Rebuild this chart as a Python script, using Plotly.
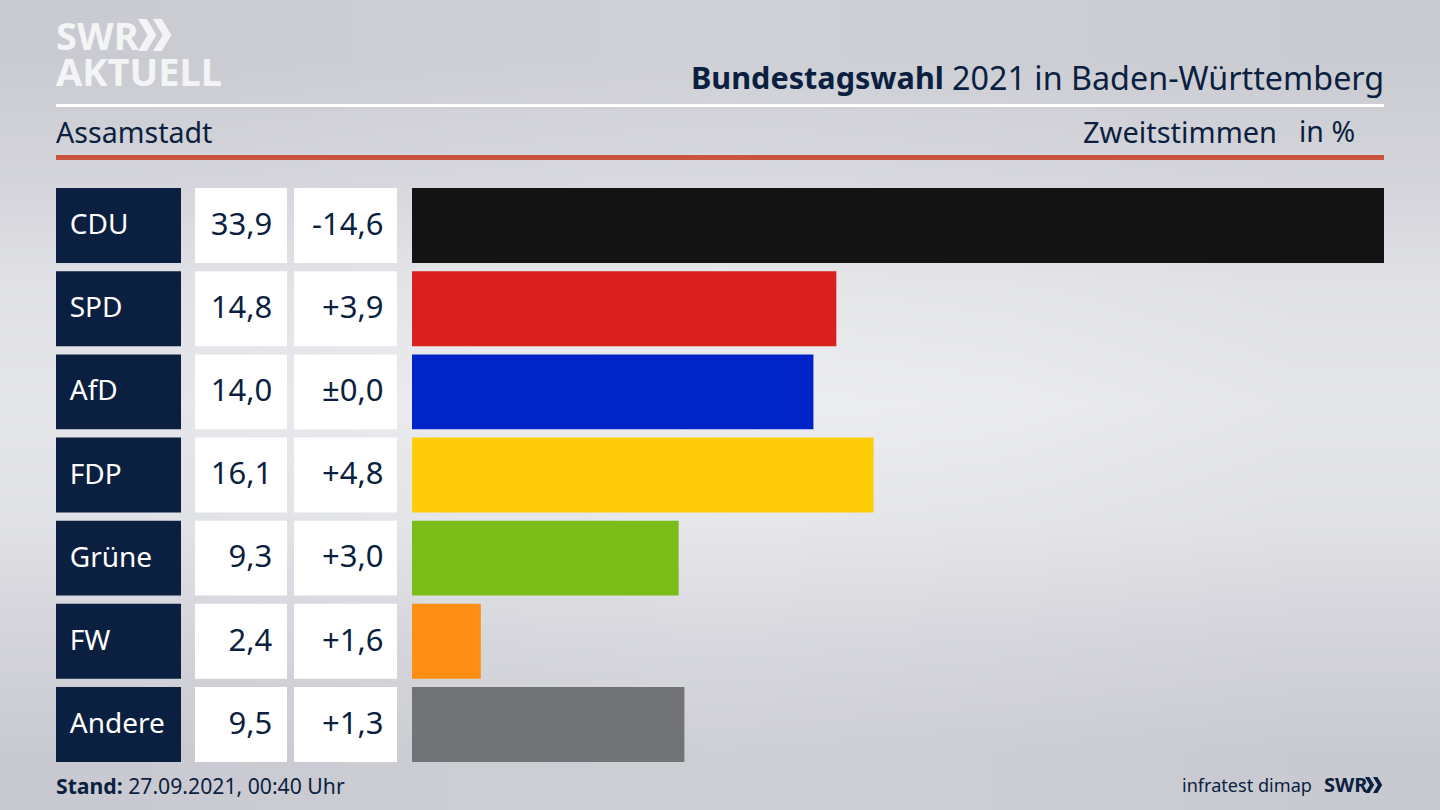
import plotly.graph_objects as go

W = 1440
H = 810
FONT = "Noto Sans"
NAVY = "#0b1f40"

parties = ["CDU", "SPD", "AfD", "FDP", "Grüne", "FW", "Andere"]
shares = [33.9, 14.8, 14.0, 16.1, 9.3, 2.4, 9.5]
share_labels = ["33,9", "14,8", "14,0", "16,1", "9,3", "2,4", "9,5"]
diff_labels = ["-14,6", "+3,9", "±0,0", "+4,8", "+3,0", "+1,6", "+1,3"]
bar_colors = ["#131313", "#d9201e", "#0023c8", "#ffcd09", "#7abd18", "#ff8e14", "#727376"]

# background brightness, rows top to bottom, columns left to right
bg_z = [
    [203, 206, 208, 206, 203],
    [213, 216, 218, 216, 213],
    [226, 230, 232, 230, 226],
    [231, 236, 238, 236, 231],
    [226, 230, 232, 230, 226],
    [213, 216, 218, 216, 213],
    [204, 207, 209, 207, 204],
]


def xd(left, right):
    return [left / W, right / W]


def yd(top, bottom):
    return [1 - bottom / H, 1 - top / H]


fig = go.Figure()

# gradient background
fig.add_trace(go.Heatmap(
    z=bg_z, zsmooth="best", showscale=False, hoverinfo="skip",
    zmin=0, zmax=255,
    colorscale=[[0, "rgb(0,0,30)"], [1, "rgb(253,254,255)"]],
    xaxis="x", yaxis="y",
))

# result bars
fig.add_trace(go.Bar(
    x=shares, y=parties, orientation="h", marker=dict(color=bar_colors, line_width=0),
    xaxis="x2", yaxis="y2",
))

# table cells, one axis per column
for axis, color in [("x3", NAVY), ("x4", "white"), ("x5", "white")]:
    fig.add_trace(go.Bar(
        x=[1] * len(parties), y=parties, orientation="h",
        marker=dict(color=color, line_width=0), xaxis=axis, yaxis="y2",
    ))

# cell text sits on y3, which is y2 moved down a little
cell_font = dict(family=FONT, size=31, color=NAVY)
fig.add_trace(go.Scatter(
    x=[0.11] * len(parties), y=parties, mode="text", text=parties, textposition="middle right",
    textfont=dict(family=FONT, size=28, color="white"), xaxis="x3", yaxis="y3",
))
fig.add_trace(go.Scatter(
    x=[0.84] * len(parties), y=parties, mode="text", text=share_labels, textposition="middle left",
    textfont=cell_font, xaxis="x4", yaxis="y3",
))
fig.add_trace(go.Scatter(
    x=[0.87] * len(parties), y=parties, mode="text", text=diff_labels, textposition="middle left",
    textfont=cell_font, xaxis="x5", yaxis="y3",
))

hidden = dict(visible=False, fixedrange=True)
rows = dict(categoryorder="array", categoryarray=parties[::-1], range=[-0.5, 6.5])
fig.update_layout(
    width=W, height=H,
    margin=dict(l=0, r=0, t=0, b=0),
    showlegend=False,
    bargap=0.0986,
    paper_bgcolor="#dcdee3",
    plot_bgcolor="rgba(0,0,0,0)",
    xaxis=dict(domain=[0, 1], **hidden),
    yaxis=dict(domain=[0, 1], **hidden),
    xaxis2=dict(domain=xd(412, 1384), range=[0, 33.9], anchor="y2", **hidden),
    xaxis3=dict(domain=xd(56, 181), range=[0, 1], anchor="y2", **hidden),
    xaxis4=dict(domain=xd(195, 287), range=[0, 1], anchor="y2", **hidden),
    xaxis5=dict(domain=xd(294, 397), range=[0, 1], anchor="y2", **hidden),
    yaxis2=dict(domain=yd(184, 766), **rows, **hidden),
    yaxis3=dict(domain=yd(185.5, 767.5), **rows, **hidden),
)


def label(x, y, text, size, color=NAVY, anchor="left", family=FONT):
    fig.add_annotation(
        x=x / W, y=1 - y / H, xref="paper", yref="paper", text=text, showarrow=False,
        xanchor=anchor, yanchor="middle", borderpad=0, borderwidth=0,
        font=dict(family=family, size=size, color=color),
    )


label(944, 77, "<b>Bundestagswahl</b>", 30.6, anchor="right")
label(1384, 77, "2021 in Baden-Württemberg", 32.3, anchor="right")
label(56, 131, "Assamstadt", 28.6)
label(1277, 131, "Zweitstimmen", 29, anchor="right")
label(1355, 131, "in %", 28.5, anchor="right")
label(56, 785, "<b>Stand:</b> 27.09.2021, 00:40 Uhr", 21.2)
label(1312, 785, "infratest dimap", 18.1, anchor="right")
label(1324, 784, "<b>SWR</b>", 20)

# logo
label(56, 35, "<b>SWR</b>", 38, color="#f3f4f6")
label(56, 71, "<b>AKTUELL</b>", 38, color="#f3f4f6")


def rule(top, bottom, color):
    fig.add_shape(
        type="rect", xref="paper", yref="paper", x0=56 / W, x1=1384 / W,
        y0=1 - bottom / H, y1=1 - top / H, fillcolor=color, line_width=0,
    )


rule(104, 107, "white")
rule(155, 160, "#c8533f")

# the two chevrons of the SWR mark, big one in the logo and small one in the footer
for (cx, cy, s, gap, col) in [(138, 35, 16, 15, "#f3f4f6"), (1365, 785, 8, 8, NAVY)]:
    path = ""
    for i in range(2):
        x0 = cx + i * gap
        path += (
            f"M{x0 / W},{1 - (cy - s) / H} L{(x0 + s * 0.55) / W},{1 - (cy - s) / H} "
            f"L{(x0 + s * 1.15) / W},{1 - cy / H} L{(x0 + s * 0.55) / W},{1 - (cy + s) / H} "
            f"L{x0 / W},{1 - (cy + s) / H} L{(x0 + s * 0.6) / W},{1 - cy / H} Z "
        )
    fig.add_shape(type="path", path=path, xref="paper", yref="paper", fillcolor=col, line_width=0)

fig.write_html(
    "out.html",
    config=dict(displayModeBar=False),
    post_script="document.body.style.margin='0';document.body.style.overflow='hidden';",
)
